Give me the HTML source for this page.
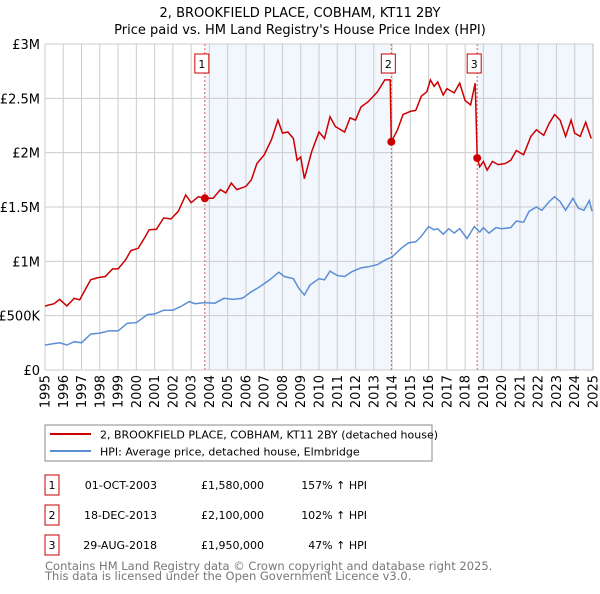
<!DOCTYPE html>
<html><head><meta charset="utf-8"><style>
body{margin:0;background:#fff;font-family:"DejaVu Sans","Liberation Sans",sans-serif;}
svg text{font-family:"DejaVu Sans","Liberation Sans",sans-serif;}
</style></head><body>
<svg id="c" width="600" height="590" xmlns="http://www.w3.org/2000/svg">
<text x="300" y="17" text-anchor="middle" font-size="13" fill="#000">2, BROOKFIELD PLACE, COBHAM, KT11 2BY</text>
<text x="300" y="34" text-anchor="middle" font-size="13" fill="#000">Price paid vs. HM Land Registry's House Price Index (HPI)</text>
<g id="plot"></g>
<rect x="45" y="425" width="387" height="36" fill="#fff" stroke="#888"/>
<line x1="50" y1="434" x2="91" y2="434" stroke="#cc0000" stroke-width="2"/>
<text x="100" y="438.5" font-size="11">2, BROOKFIELD PLACE, COBHAM, KT11 2BY (detached house)</text>
<line x1="50" y1="451" x2="91" y2="451" stroke="#5b8fd4" stroke-width="2"/>
<text x="100" y="455.5" font-size="11">HPI: Average price, detached house, Elmbridge</text>
<g id="tbl" font-size="11"></g>
<text x="45" y="570" font-size="11.5" fill="#777">Contains HM Land Registry data © Crown copyright and database right 2025.</text>
<text x="45" y="580" font-size="11.5" fill="#777">This data is licensed under the Open Government Licence v3.0.</text>
</svg>
<script>
const priceYears=[1995.0,1995.5,1995.8,1996.2,1996.6,1996.9,1997.2,1997.5,1997.9,1998.3,1998.7,1999.0,1999.4,1999.7,2000.1,2000.5,2000.7,2001.1,2001.5,2001.9,2002.3,2002.7,2003.0,2003.4,2003.75,2004.2,2004.6,2004.9,2005.2,2005.5,2006.0,2006.3,2006.6,2007.0,2007.4,2007.75,2008.0,2008.3,2008.6,2008.8,2009.0,2009.2,2009.6,2010.0,2010.3,2010.6,2010.9,2011.4,2011.7,2012.0,2012.3,2012.7,2013.2,2013.6,2013.9,2013.96,2014.3,2014.6,2015.0,2015.3,2015.6,2015.9,2016.1,2016.3,2016.5,2016.8,2017.0,2017.4,2017.7,2018.0,2018.3,2018.55,2018.66,2018.8,2019.0,2019.2,2019.5,2019.8,2020.2,2020.5,2020.8,2021.2,2021.6,2021.9,2022.3,2022.6,2022.9,2023.2,2023.5,2023.8,2024.0,2024.3,2024.6,2024.9];
const priceValues=[0.589,0.61,0.65,0.59,0.66,0.645,0.74,0.83,0.85,0.86,0.93,0.93,1.01,1.10,1.12,1.23,1.29,1.295,1.40,1.39,1.46,1.61,1.54,1.595,1.58,1.58,1.66,1.63,1.72,1.66,1.69,1.75,1.90,1.98,2.12,2.30,2.18,2.19,2.13,1.93,1.96,1.76,2.01,2.19,2.13,2.33,2.24,2.19,2.32,2.30,2.42,2.47,2.56,2.67,2.67,2.10,2.21,2.35,2.38,2.39,2.52,2.56,2.67,2.61,2.65,2.53,2.59,2.55,2.64,2.48,2.44,2.64,1.95,1.87,1.92,1.84,1.92,1.89,1.90,1.93,2.02,1.98,2.15,2.21,2.16,2.27,2.35,2.30,2.15,2.30,2.18,2.15,2.28,2.13];
const hpiYears=[1995.0,1995.8,1996.2,1996.6,1997.0,1997.5,1998.0,1998.5,1999.0,1999.5,2000.0,2000.6,2001.0,2001.5,2002.0,2002.5,2002.9,2003.2,2003.75,2004.3,2004.8,2005.3,2005.8,2006.3,2006.8,2007.3,2007.8,2008.1,2008.6,2008.9,2009.2,2009.5,2010.0,2010.3,2010.6,2011.0,2011.4,2011.8,2012.3,2012.7,2013.2,2013.6,2014.0,2014.5,2014.9,2015.3,2015.6,2016.0,2016.3,2016.5,2016.8,2017.1,2017.4,2017.7,2018.1,2018.5,2018.8,2019.0,2019.3,2019.7,2020.0,2020.5,2020.8,2021.2,2021.5,2021.9,2022.2,2022.6,2022.9,2023.2,2023.5,2023.9,2024.2,2024.5,2024.8,2024.95];
const hpiValues=[0.23,0.25,0.23,0.26,0.25,0.33,0.34,0.36,0.36,0.43,0.435,0.51,0.515,0.55,0.55,0.59,0.63,0.61,0.62,0.615,0.66,0.65,0.66,0.72,0.77,0.83,0.90,0.86,0.84,0.75,0.69,0.78,0.84,0.83,0.91,0.87,0.86,0.905,0.94,0.95,0.97,1.01,1.04,1.12,1.17,1.18,1.23,1.32,1.29,1.30,1.25,1.30,1.26,1.30,1.21,1.32,1.27,1.31,1.26,1.31,1.30,1.31,1.37,1.36,1.46,1.50,1.47,1.55,1.595,1.55,1.47,1.58,1.49,1.47,1.56,1.46];
const saleYears=[2003.75,2013.96,2018.66];
const saleValues=[1.58,2.10,1.95];
const saleLabels=["1","2","3"];
const saleDates=["01-OCT-2003","18-DEC-2013","29-AUG-2018"];
const salePrices=["£1,580,000","£2,100,000","£1,950,000"];
const saleHpi=["157% ↑ HPI","102% ↑ HPI","47% ↑ HPI"];
const yTicks=[0,0.5,1,1.5,2,2.5,3];
const yTickLabels=["£0","£500K","£1M","£1.5M","£2M","£2.5M","£3M"];
const xTicks=[1995,1996,1997,1998,1999,2000,2001,2002,2003,2004,2005,2006,2007,2008,2009,2010,2011,2012,2013,2014,2015,2016,2017,2018,2019,2020,2021,2022,2023,2024,2025];

const L=45,R=593,T=44,B=370;
const xS=y=>L+(y-1995)/30*(R-L);
const yS=v=>B-v/3*(B-T);
const NS="http://www.w3.org/2000/svg";
const g=document.getElementById('plot');
function mk(tag,a,parent){const e=document.createElementNS(NS,tag);for(const k in a)e.setAttribute(k,a[k]);(parent||g).appendChild(e);return e;}

let e;
e=mk('rect',{x:xS(saleYears[0]),y:T,width:xS(saleYears[1])-xS(saleYears[0]),height:B-T,fill:'#eef3fc',opacity:0.75});


e=mk('rect',{x:xS(saleYears[2]),y:T,width:R-xS(saleYears[2]),height:B-T,fill:'#eef3fc',opacity:0.75});



xTicks.forEach(t=>{
  e=mk('line',{x1:xS(t),x2:xS(t),y1:T,y2:B,stroke:'#ccc','stroke-width':1});
  
  
  e=mk('text',{x:0,y:0,'font-size':13,'text-anchor':'end',transform:`translate(${xS(t)+4.5},${B+5}) rotate(-90)`});
  e.textContent=t;
  
  
});
yTicks.forEach((t,i)=>{
  e=mk('line',{x1:L,x2:R,y1:yS(t),y2:yS(t),stroke:'#ccc','stroke-width':1});
  
  
  e=mk('text',{x:40,y:yS(t)+5,'font-size':13,'text-anchor':'end'});
  e.textContent=yTickLabels[i];
  
  
});

saleYears.forEach((s,i)=>{
  e=mk('line',{x1:xS(s),x2:xS(s),y1:T,y2:B,stroke:'#e06060','stroke-width':1,'stroke-dasharray':'2,2'});
  
  
});

const path=(xs,vs)=>xs.map((x,i)=>(i?'L':'M')+xS(x).toFixed(1)+','+yS(vs[i]).toFixed(1)).join('');
e=mk('path',{d:path(hpiYears,hpiValues),fill:'none',stroke:'#5b8fd4','stroke-width':1.5});


e=mk('path',{d:path(priceYears,priceValues),fill:'none',stroke:'#cc0000','stroke-width':1.5});



saleYears.forEach((s,i)=>{
  e=mk('circle',{cx:xS(s),cy:yS(saleValues[i]),r:4,fill:'#cc0000'});
  
  
  e=mk('rect',{x:xS(s)-10,y:54,width:14,height:19,fill:'#fff',stroke:'#cc0000'});
  
  
  e=mk('text',{x:xS(s)-3,y:68,'font-size':11,'text-anchor':'middle'});
  e.textContent=saleLabels[i];
  
  
});
e=mk('line',{x1:R,x2:R,y1:T,y2:B,stroke:'#bbb','stroke-width':1});



const tb=document.getElementById('tbl');
saleLabels.forEach((l,i)=>{
  const y=485+i*30;
  e=mk('rect',{x:45,y:y-10,width:14,height:20,fill:'#fff',stroke:'#cc0000'},tb);
  
  
  e=mk('text',{x:52,y:y+4,'text-anchor':'middle'},tb);e.textContent=l;
  
  
  e=mk('text',{x:157,y:y+4,'text-anchor':'end'},tb);e.textContent=saleDates[i];
  
  
  e=mk('text',{x:264,y:y+4,'text-anchor':'end'},tb);e.textContent=salePrices[i];
  
  
  e=mk('text',{x:367,y:y+4,'text-anchor':'end'},tb);e.textContent=saleHpi[i];
  
  
});
</script>
</body></html>
